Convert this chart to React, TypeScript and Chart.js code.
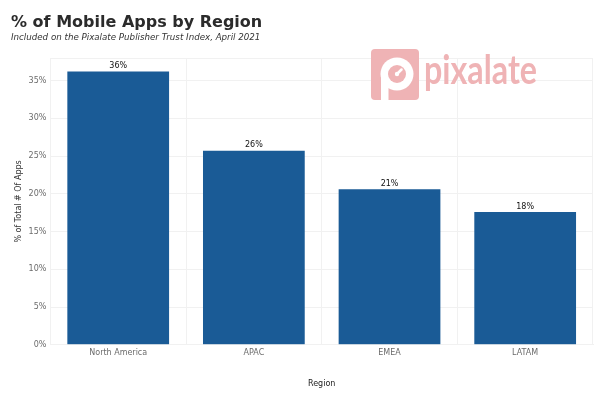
import React, { useEffect, useRef } from "react";
import { Chart, registerables } from "chart.js";

Chart.register(...registerables);

const categories = ["North America", "APAC", "EMEA", "LATAM"];
const values = [36.2, 25.7, 20.6, 17.6];
const valueLabels = ["36%", "26%", "21%", "18%"];
const titleText = "% of Mobile Apps by Region";
const subtitleText = "Included on the Pixalate Publisher Trust Index, April 2021";
const yAxisTitle = "% of Total # Of Apps";
const xAxisTitle = "Region";
const logoText = "pixalate";

const FONT = "'DejaVu Sans', sans-serif";
const PINK = "#efb3b5";

function roundRectPath(ctx: any, x: number, y: number, w: number, h: number, r: number) {
  ctx.beginPath();
  ctx.moveTo(x + r, y);
  ctx.lineTo(x + w - r, y);
  ctx.quadraticCurveTo(x + w, y, x + w, y + r);
  ctx.lineTo(x + w, y + h - r);
  ctx.quadraticCurveTo(x + w, y + h, x + w - r, y + h);
  ctx.lineTo(x + r, y + h);
  ctx.quadraticCurveTo(x, y + h, x, y + h - r);
  ctx.lineTo(x, y + r);
  ctx.quadraticCurveTo(x, y, x + r, y);
  ctx.closePath();
}

const decorPlugin = {
  id: "decor",
  beforeDraw(chart: any) {
    const ctx = chart.ctx;
    ctx.save();
    ctx.fillStyle = "#ffffff";
    ctx.fillRect(0, 0, chart.width, chart.height);
    ctx.restore();
  },
  afterDatasetsDraw(chart: any) {
    const ctx = chart.ctx;
    // Logo watermark
    ctx.save();
    ctx.fillStyle = PINK;
    roundRectPath(ctx, 371, 49, 48, 51, 4);
    ctx.fill();
    const cx = 397, cy = 74;
    ctx.fillStyle = "#ffffff";
    ctx.beginPath();
    ctx.arc(cx, cy, 16.5, 0, Math.PI * 2);
    ctx.fill();
    ctx.fillRect(381, cy, 7.5, 26);
    ctx.fillStyle = PINK;
    ctx.beginPath();
    ctx.arc(cx, cy, 9, 0, Math.PI * 2);
    ctx.fill();
    ctx.strokeStyle = "#ffffff";
    ctx.lineWidth = 2.5;
    ctx.lineCap = "round";
    ctx.beginPath();
    ctx.moveTo(cx, cy);
    ctx.lineTo(cx + 4.5, cy - 4.5);
    ctx.stroke();
    ctx.fillStyle = "#ffffff";
    ctx.beginPath();
    ctx.arc(cx, cy, 2.2, 0, Math.PI * 2);
    ctx.fill();

    ctx.fillStyle = PINK;
    ctx.font = `bold 40px 'Lato', sans-serif`;
    ctx.textBaseline = "alphabetic";
    ctx.textAlign = "left";
    const w = ctx.measureText(logoText).width;
    ctx.translate(424, 84);
    ctx.scale(113 / w, 1);
    ctx.fillText(logoText, 0, 0);
    ctx.restore();

    // value labels
    const meta = chart.getDatasetMeta(0);
    ctx.save();
    ctx.fillStyle = "#111111";
    ctx.font = `8px ${FONT}`;
    ctx.textAlign = "center";
    ctx.textBaseline = "bottom";
    meta.data.forEach((bar: any, i: number) => {
      ctx.fillText(valueLabels[i], bar.x, bar.y - 1.5);
    });
    ctx.restore();

    // titles
    ctx.save();
    ctx.textAlign = "left";
    ctx.textBaseline = "alphabetic";
    ctx.fillStyle = "#2b2b2b";
    ctx.font = `bold 16px ${FONT}`;
    ctx.fillText(titleText, 11, 27);
    ctx.fillStyle = "#333333";
    ctx.font = `italic 8.7px ${FONT}`;
    ctx.fillText(subtitleText, 11, 40);
    ctx.restore();
  },
};

export default function App() {
  const ref = useRef<HTMLCanvasElement>(null);
  useEffect(() => {
    if (!ref.current) return;
    const chart = new Chart(ref.current, {
      type: "bar",
      data: {
        labels: categories,
        datasets: [
          {
            data: values,
            backgroundColor: "#1a5b96",
            categoryPercentage: 0.75,
            barPercentage: 1,
          },
        ],
      },
      options: {
        animation: false,
        responsive: false,
        maintainAspectRatio: false,
        layout: { padding: { top: 58, left: 14, right: 7, bottom: 10 } },
        plugins: {
          legend: { display: false },
          tooltip: { enabled: false },
        },
        scales: {
          x: {
            grid: { color: "#f1f1f1", offset: true, drawTicks: false },
            border: { color: "#f1f1f1" },
            ticks: { color: "#6b6b6b", font: { family: FONT, size: 8 }, padding: 3 },
            title: {
              display: true,
              text: xAxisTitle,
              color: "#1a1a1a",
              font: { family: FONT, size: 8 },
              padding: { top: 19, bottom: 0 },
            },
          },
          y: {
            min: 0,
            max: 38,
            grid: { color: "#f1f1f1", drawTicks: false },
            border: { display: false },
            ticks: {
              stepSize: 5,
              color: "#6b6b6b",
              font: { family: FONT, size: 8 },
              padding: 4,
              callback: (v: any) => (v % 5 === 0 ? `${v}%` : ""),
            },
            title: {
              display: true,
              text: yAxisTitle,
              color: "#333333",
              font: { family: FONT, size: 8 },
              padding: { top: 0, bottom: 1 },
            },
          },
        },
      },
      plugins: [decorPlugin],
    });
    return () => chart.destroy();
  }, []);
  return (
    <div style={{ position: "fixed", left: 0, top: 0, width: 600, height: 399 }}>
      <canvas ref={ref} width={600} height={399} style={{ display: "block" }} />
    </div>
  );
}
